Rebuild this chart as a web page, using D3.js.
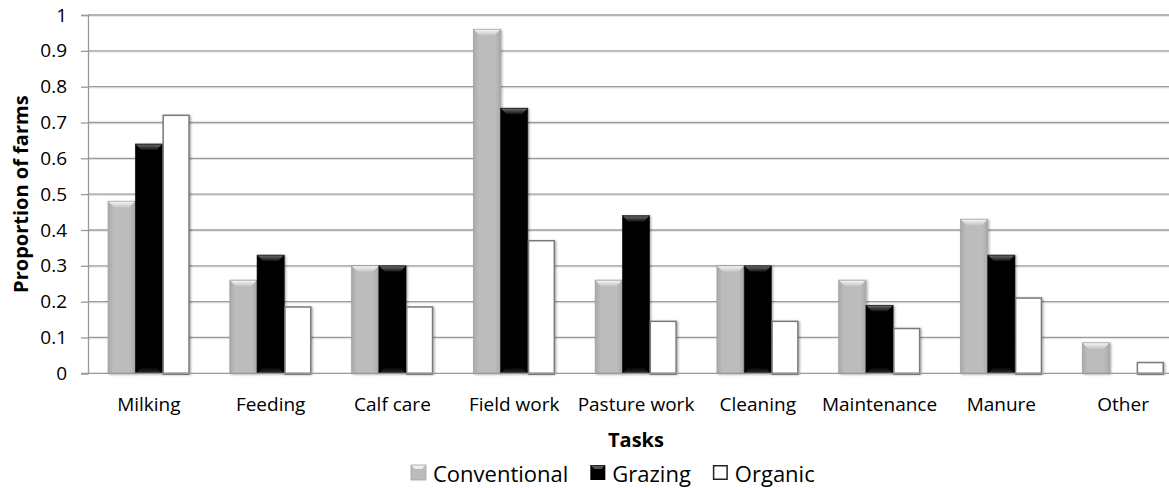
<!DOCTYPE html>
<html><head><meta charset="utf-8">
<script src="https://cdn.jsdelivr.net/npm/d3@7/dist/d3.min.js"></script>
<style>
html,body{margin:0;padding:0;background:#fff;overflow:hidden}
text{font-family:"Open Sans",sans-serif;fill:#000}
</style></head>
<body>
<svg id="chart" width="1169" height="488"></svg>
<script>
const categories = ["Milking","Feeding","Calf care","Field work","Pasture work","Cleaning","Maintenance","Manure","Other"];
const seriesNames = ["Conventional","Grazing","Organic"];
const conventional = [0.48,0.26,0.30,0.96,0.26,0.30,0.26,0.43,0.085];
const grazing      = [0.64,0.33,0.30,0.74,0.44,0.30,0.19,0.33,0];
const organic      = [0.72,0.185,0.185,0.37,0.145,0.145,0.125,0.21,0.03];
const yTicks = [0,0.1,0.2,0.3,0.4,0.5,0.6,0.7,0.8,0.9,1];
const yTickLabels = ["0","0.1","0.2","0.3","0.4","0.5","0.6","0.7","0.8","0.9","1"];

(function(){
const seriesValues = [conventional, grazing, organic];
const svg = d3.select("#chart");
const pLeft = 88, pRight = 1184, pTop = 15, pBottom = 373.3;

const x = d3.scaleBand().domain(categories).range([pLeft, pRight]).paddingInner(0.33).paddingOuter(0.165);
const xs = d3.scaleBand().domain(seriesNames).range([0, x.bandwidth()]);
const y = d3.scaleLinear().domain([0,1]).range([pBottom, pTop]);

const defs = svg.append("defs");
const gGray = defs.append("linearGradient").attr("id","gGray").attr("x1",0).attr("x2",1).attr("y1",0).attr("y2",0);
gGray.append("stop").attr("offset","0%").attr("stop-color","#a9a9a9");
gGray.append("stop").attr("offset","20%").attr("stop-color","#bcbcbc");
gGray.append("stop").attr("offset","80%").attr("stop-color","#bcbcbc");
gGray.append("stop").attr("offset","100%").attr("stop-color","#a9a9a9");
const gGrayTop = defs.append("linearGradient").attr("id","gGrayTop").attr("x1",0).attr("x2",0).attr("y1",0).attr("y2",1);
gGrayTop.append("stop").attr("offset","0%").attr("stop-color","#f4f4f4");
gGrayTop.append("stop").attr("offset","100%").attr("stop-color","#c4c4c4");
const gBlackTop = defs.append("linearGradient").attr("id","gBlackTop").attr("x1",0).attr("x2",0).attr("y1",0).attr("y2",1);
gBlackTop.append("stop").attr("offset","0%").attr("stop-color","#6a6a6a");
gBlackTop.append("stop").attr("offset","100%").attr("stop-color","#111");
const gBlackBot = defs.append("linearGradient").attr("id","gBlackBot").attr("x1",0).attr("x2",0).attr("y1",0).attr("y2",1);
gBlackBot.append("stop").attr("offset","0%").attr("stop-color","#000");
gBlackBot.append("stop").attr("offset","100%").attr("stop-color","#2e2e2e");
const sh = defs.append("filter").attr("id","sh").attr("x","-20%").attr("y","-20%").attr("width","140%").attr("height","140%");
sh.append("feDropShadow").attr("dx",1.2).attr("dy",0.8).attr("stdDeviation",1).attr("flood-color","#000").attr("flood-opacity",0.35);

// gridlines
const grid = svg.append("g");
grid.selectAll("line.s").data(yTicks.slice(1)).join("line")
  .attr("x1",pLeft).attr("x2",pRight).attr("y1",d=>y(d)+1.2).attr("y2",d=>y(d)+1.2)
  .attr("stroke","#dedede").attr("stroke-width",1);
grid.selectAll("line.m").data(yTicks.slice(1)).join("line")
  .attr("x1",pLeft).attr("x2",pRight).attr("y1",d=>y(d)).attr("y2",d=>y(d))
  .attr("stroke","#9c9c9c").attr("stroke-width",1.3);

// y axis
const yAxis = d3.axisLeft(y).tickValues(yTicks).tickFormat((d,i)=>yTickLabels[i]).tickSize(7).tickPadding(14);
const ya = svg.append("g").attr("transform",`translate(${pLeft},0)`).call(yAxis);
ya.select(".domain").attr("stroke","#999").attr("stroke-width",1.3);
ya.selectAll(".tick line").attr("stroke","#999").attr("stroke-width",1.3);
ya.selectAll(".tick text").style("font-family","Open Sans").style("font-size","19px").attr("fill","#000");

// bars
const groups = svg.append("g").selectAll("g").data(categories).join("g")
  .attr("transform",d=>`translate(${x(d)},0)`);
const bw = xs.bandwidth();
seriesNames.forEach((s, si) => {
  const vals = seriesValues[si];
  const sel = groups.append("g").attr("class","bar-"+si).datum((d,i)=>vals[i]);
  sel.each(function(v){
    const g = d3.select(this);
    const x0 = xs(s), yTop = y(v), h = y(0) - y(v);
    if (h <= 0) return;
    const b = Math.min(6, h/2);
    if (si === 0) {
      g.append("rect").attr("x",x0).attr("y",yTop).attr("width",bw).attr("height",h)
        .attr("fill","url(#gGray)").attr("stroke","#a2a2a2").attr("stroke-width",0.8).attr("filter","url(#sh)");
      g.append("path").attr("d",`M${x0+0.5},${yTop+0.5}L${x0+bw-0.5},${yTop+0.5}L${x0+bw-b},${yTop+b}L${x0+b},${yTop+b}Z`).attr("fill","url(#gGrayTop)");
    } else if (si === 1) {
      g.append("rect").attr("x",x0).attr("y",yTop).attr("width",bw).attr("height",h)
        .attr("fill","#000").attr("stroke","#111").attr("stroke-width",0.6).attr("filter","url(#sh)");
      g.append("path").attr("d",`M${x0+0.5},${yTop+0.5}L${x0+bw-0.5},${yTop+0.5}L${x0+bw-b},${yTop+b}L${x0+b},${yTop+b}Z`).attr("fill","url(#gBlackTop)");
      g.append("path").attr("d",`M${x0+b},${y(0)-b}L${x0+bw-b},${y(0)-b}L${x0+bw-0.5},${y(0)}L${x0+0.5},${y(0)}Z`).attr("fill","url(#gBlackBot)");
    } else {
      g.append("rect").attr("x",x0+0.7).attr("y",yTop).attr("width",bw-1.4).attr("height",h)
        .attr("fill","#fff").attr("stroke","#7a7a7a").attr("stroke-width",1.5).attr("filter","url(#sh)");
    }
  });
});

// x axis baseline
svg.append("line").attr("x1",pLeft-7).attr("x2",pRight).attr("y1",y(0)).attr("y2",y(0)).attr("stroke","#999").attr("stroke-width",1.3);
// dark bottom edges on organic bars
groups.append("line").datum((d,i)=>organic[i])
  .attr("x1",xs("Organic")).attr("x2",xs("Organic")+bw).attr("y1",y(0)+0.5).attr("y2",y(0)+0.5)
  .attr("stroke","#333").attr("stroke-width",1.5);

// category labels
svg.append("g").selectAll("text").data(categories).join("text")
  .attr("x",d=>x(d)+x.bandwidth()/2).attr("y",411)
  .attr("text-anchor","middle").style("font-size","19px").text(d=>d);

// axis titles
svg.append("text").attr("x",(pLeft+pRight)/2).attr("y",447).attr("text-anchor","middle")
  .style("font-size","20px").style("font-weight","bold").text("Tasks");
svg.append("text").attr("transform",`translate(28,${(pTop+pBottom)/2}) rotate(-90)`)
  .attr("text-anchor","middle").style("font-size","20px").style("font-weight","bold").text("Proportion of farms");

// legend
const leg = svg.append("g");
let lx = 411;
seriesNames.forEach((s, si) => {
  const g = leg.append("g").attr("transform",`translate(${lx},0)`);
  const sy = 465, ss = 15;
  if (si === 0) {
    g.append("rect").attr("x",0).attr("y",sy).attr("width",ss).attr("height",ss).attr("fill","#bcbcbc").attr("stroke","#a2a2a2").attr("stroke-width",0.8);
    g.append("path").attr("d",`M0.5,${sy+0.5}L${ss-0.5},${sy+0.5}L${ss-4},${sy+4}L4,${sy+4}Z`).attr("fill","#eee");
  } else if (si === 1) {
    g.append("rect").attr("x",0).attr("y",sy).attr("width",ss).attr("height",ss).attr("fill","#000");
    g.append("path").attr("d",`M0.5,${sy+0.5}L${ss-0.5},${sy+0.5}L${ss-4},${sy+4}L4,${sy+4}Z`).attr("fill","#555");
  } else {
    g.append("rect").attr("x",0.75).attr("y",sy+0.75).attr("width",ss-1.5).attr("height",ss-1.5).attr("fill","#fff").attr("stroke","#222").attr("stroke-width",1.5);
  }
  const t = g.append("text").attr("x",ss+7).attr("y",482).style("font-size","22px").text(s);
  const w = t.node().getComputedTextLength();
  lx += ss + 7 + w + 22;
});
})();
</script>
</body></html>
